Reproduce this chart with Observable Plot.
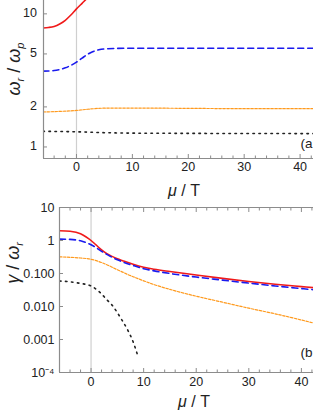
<!DOCTYPE html>
<html>
<head>
<meta charset="utf-8">
<script src="https://cdn.jsdelivr.net/npm/d3@7"></script>
<script src="https://cdn.jsdelivr.net/npm/@observablehq/plot@0.6"></script>
<style>
  html, body { margin: 0; padding: 0; background: #fff; overflow: hidden; }
  #chart { width: 313px; height: 413px; position: relative; font-family: 'Liberation Sans', Arial, sans-serif; color: #222; }
  #chart svg { display: block; overflow: hidden; }
  .ylab { position: absolute; white-space: nowrap; font-size: 18px; line-height: 1; transform: translate(-50%, -50%) rotate(-90deg); pointer-events: none; }
  .ylab sub { font-size: 11px; vertical-align: -4px; line-height: 0; }
  .ytick { position: absolute; white-space: nowrap; font-size: 12.5px; line-height: 1; transform: translateY(-50%); text-align: right; }
</style>
</head>
<body>
<div id="chart"></div>
<script>
// ---------- Panel (a): omega_r / omega_p ----------
const aRedX    = [-6, -5, -4, -3, -2, -1, 0, 1, 2, 3, 4, 5, 7, 10, 42.5];
const aRedY    = [7.83, 7.9, 8.05, 8.4, 8.95, 9.8, 10.9, 12.0, 13.2, 14.2, 14.9, 15.3, 15.6, 15.7, 15.7];
const aBlueX   = [-6, -4, -3, -2, -1, 0, 1, 2, 3, 4, 5, 7, 10, 42.5];
const aBlueY   = [3.71, 3.75, 3.82, 3.93, 4.1, 4.34, 4.65, 4.97, 5.22, 5.37, 5.45, 5.5, 5.52, 5.52];
const aOrangeX = [-6, -3, 0, 2, 4, 6, 10, 20, 30, 42.5];
const aOrangeY = [1.83, 1.85, 1.88, 1.92, 1.95, 1.96, 1.96, 1.95, 1.94, 1.94];
const aBlackX  = [-6, 0, 5, 10, 20, 42.5];
const aBlackY  = [1.31, 1.30, 1.28, 1.27, 1.265, 1.26];

// ---------- Panel (b): gamma / omega_r ----------
const bRedX    = [-6, -4, -2, -1, 0, 1, 2, 3, 4, 5, 6, 8, 10, 12, 15, 20, 25, 30, 35, 40, 42.5];
const bRedY    = [1.98, 1.9, 1.6, 1.3, 1.0, 0.72, 0.52, 0.4, 0.33, 0.28, 0.245, 0.19, 0.155, 0.135, 0.115, 0.09, 0.071, 0.057, 0.047, 0.04, 0.037];
const bBlueX   = [-6, -4, -2, -1, 0, 1, 2, 3, 4, 5, 6, 8, 10, 12, 15, 20, 25, 30, 35, 40, 42.5];
const bBlueY   = [1.1, 1.08, 0.98, 0.87, 0.74, 0.6, 0.47, 0.38, 0.31, 0.26, 0.225, 0.175, 0.14, 0.12, 0.1, 0.078, 0.063, 0.051, 0.042, 0.035, 0.032];
const bOrangeX = [-6, -4, -2, 0, 1, 2, 3, 4, 5, 6, 7, 8, 10, 12, 15, 20, 25, 30, 35, 40, 42.5];
const bOrangeY = [0.32, 0.31, 0.295, 0.27, 0.245, 0.215, 0.185, 0.155, 0.13, 0.11, 0.093, 0.08, 0.06, 0.046, 0.033, 0.0205, 0.0135, 0.0089, 0.006, 0.0039, 0.0031];
const bBlackX  = [-6, -4, -2, 0, 1, 2, 3, 4, 5, 6, 7, 8, 9];
const bBlackY  = [0.059, 0.056, 0.05, 0.042, 0.033, 0.024, 0.016, 0.011, 0.0065, 0.0036, 0.0019, 0.00085, 0.00028];

// ---------- Ticks ----------
const xMajor = [0, 10, 20, 30, 40];
const xMinor = [-4, -2, 2, 4, 6, 8, 12, 14, 16, 18, 22, 24, 26, 28, 32, 34, 36, 38, 42];
const aYTicks = [1, 2, 5, 10];
const aYLabels = ["1", "2", "5", "10"];
const bYTicks = [1e-4, 1e-3, 1e-2, 1e-1, 1, 10];
const bYLabels = ["10⁻⁴", "0.001", "0.010", "0.100", "1", "10"];

const colors = {red: "#f01a1a", blue: "#1a1aee", orange: "#ff9a1e", black: "#222"};
const frameColor = "#8c8c8c";
const font = "'Liberation Sans', Arial, sans-serif";

function toRows(xs, ys) { return xs.map((x, i) => ({x, y: ys[i]})); }
function labeler(ticks, labels) {
  return (d) => {
    const i = ticks.findIndex((t) => Math.abs(Math.log10(t) - Math.log10(d)) < 1e-6);
    return i >= 0 ? labels[i] : "";
  };
}

function seriesMarks(red, blue, orange, black) {
  return [
    Plot.line(red,    {x: "x", y: "y", stroke: colors.red, strokeWidth: 1.6, curve: "monotone-x", clip: true}),
    Plot.line(blue,   {x: "x", y: "y", stroke: colors.blue, strokeWidth: 1.6, strokeDasharray: "6,4", curve: "monotone-x", clip: true}),
    Plot.line(orange, {x: "x", y: "y", stroke: colors.orange, strokeWidth: 1.2, strokeDasharray: "2.5,1.5", curve: "monotone-x", clip: true}),
    Plot.line(black,  {x: "x", y: "y", stroke: colors.black, strokeWidth: 1.6, strokeDasharray: "1.5,4.5", strokeLinecap: "round", curve: "monotone-x", clip: true})
  ];
}

const common = {
  width: 313,
  marginRight: 0,
  style: {fontFamily: font, fontSize: "12.5px", color: "#222", background: "transparent"}
};

// Panel (a)
const aXDomain = [-5.9, 42.4];
const aYDomain = [0.819, 12.6];
const aMarginLeft = 43;
const plotA = Plot.plot({
  ...common,
  height: 200,
  marginLeft: aMarginLeft, marginTop: 0, marginBottom: 42,
  x: {domain: aXDomain},
  y: {type: "log", domain: aYDomain},
  marks: [
    Plot.ruleX([0], {stroke: "#cfcfcf", strokeWidth: 1.2}),
    ...seriesMarks(toRows(aRedX, aRedY), toRows(aBlueX, aBlueY), toRows(aOrangeX, aOrangeY), toRows(aBlackX, aBlackY)),
    Plot.ruleX([aXDomain[0]], {stroke: frameColor, strokeWidth: 1.2}),
    Plot.ruleY([aYDomain[0]], {stroke: frameColor, strokeWidth: 1.2}),
    Plot.axisX({ticks: xMajor, tickSize: -4, text: null, label: null, stroke: frameColor}),
    Plot.axisX({ticks: xMinor, tickSize: -2.5, text: null, label: null, stroke: frameColor}),
    Plot.axisX({ticks: xMajor, tickSize: 0, tickPadding: 4, label: null}),
    Plot.axisY({ticks: aYTicks, tickSize: -4, text: null, label: null, stroke: frameColor}),
    Plot.text(["(a"], {frameAnchor: "bottom-right", textAnchor: "end", dx: -1, dy: -11, fontSize: 13.5})
  ]
});

// Panel (b)
const bXDomain = [-6.0, 42.3];
const bYDomain = [1e-4, 10];
const plotB = Plot.plot({
  ...common,
  height: 213,
  marginLeft: 59, marginTop: 7, marginBottom: 41,
  x: {domain: bXDomain},
  y: {type: "log", domain: bYDomain},
  marks: [
    Plot.ruleX([0], {stroke: "#cfcfcf", strokeWidth: 1.2}),
    ...seriesMarks(toRows(bRedX, bRedY), toRows(bBlueX, bBlueY), toRows(bOrangeX, bOrangeY), toRows(bBlackX, bBlackY)),
    Plot.ruleX([bXDomain[0]], {stroke: frameColor, strokeWidth: 1.2}),
    Plot.ruleY([bYDomain[0]], {stroke: frameColor, strokeWidth: 1.2}),
    Plot.ruleY([bYDomain[1]], {stroke: frameColor, strokeWidth: 1.2}),
    Plot.axisX({ticks: xMajor, tickSize: -4, text: null, label: null, stroke: frameColor}),
    Plot.axisX({ticks: xMinor, tickSize: -2.5, text: null, label: null, stroke: frameColor}),
    Plot.axisX({anchor: "top", ticks: xMajor, tickSize: -4, text: null, label: null, stroke: frameColor}),
    Plot.axisX({anchor: "top", ticks: xMinor, tickSize: -2.5, text: null, label: null, stroke: frameColor}),
    Plot.axisX({ticks: xMajor, tickSize: 0, tickPadding: 5, label: null}),
    Plot.axisY({ticks: bYTicks, tickSize: -4, text: null, label: null, stroke: frameColor}),
    Plot.axisY({ticks: bYTicks, tickFormat: labeler(bYTicks, bYLabels), tickSize: 0, tickPadding: 5, label: null}),
    Plot.text(["(b"], {frameAnchor: "bottom-right", textAnchor: "end", dx: -1, dy: -16, fontSize: 13.5})
  ]
});

const chart = document.getElementById("chart");
chart.appendChild(plotA);
chart.appendChild(plotB);

// Panel (a) y tick labels placed through Plot's own y scale (HTML text)
const aY = plotA.scale("y");
aYTicks.forEach((v, i) => {
  const d = document.createElement("div");
  d.className = "ytick";
  d.style.right = (313 - (aMarginLeft - 6)) + "px";
  d.style.top = aY.apply(v) + "px";
  d.textContent = aYLabels[i];
  chart.appendChild(d);
});

// x-axis titles (SVG text)
function addText(svg, x, y, parts, size) {
  const t = d3.select(svg).append("text")
    .attr("transform", `translate(${x},${y})`)
    .attr("text-anchor", "middle")
    .attr("font-family", font)
    .attr("font-size", size)
    .attr("fill", "#222");
  for (const p of parts) {
    const s = t.append("tspan").text(p.t);
    if (p.i) s.attr("font-style", "italic");
  }
}
addText(plotA, 184, 196, [{t: "μ", i: true}, {t: " / T"}], 16);
addText(plotB, 194, 207, [{t: "μ", i: true}, {t: " / T"}], 16);

// y-axis titles with subscripts (HTML overlay, real text)
function addYLabel(left, top, html) {
  const d = document.createElement("div");
  d.className = "ylab";
  d.style.left = left + "px";
  d.style.top = top + "px";
  d.innerHTML = html;
  chart.appendChild(d);
}
addYLabel(14, 69, "<i>ω</i><sub><i>r</i></sub> / <i>ω</i><sub><i>p</i></sub>");
addYLabel(13, 263, "<i>γ</i> / <i>ω</i><sub><i>r</i></sub>");
</script>
</body>
</html>
